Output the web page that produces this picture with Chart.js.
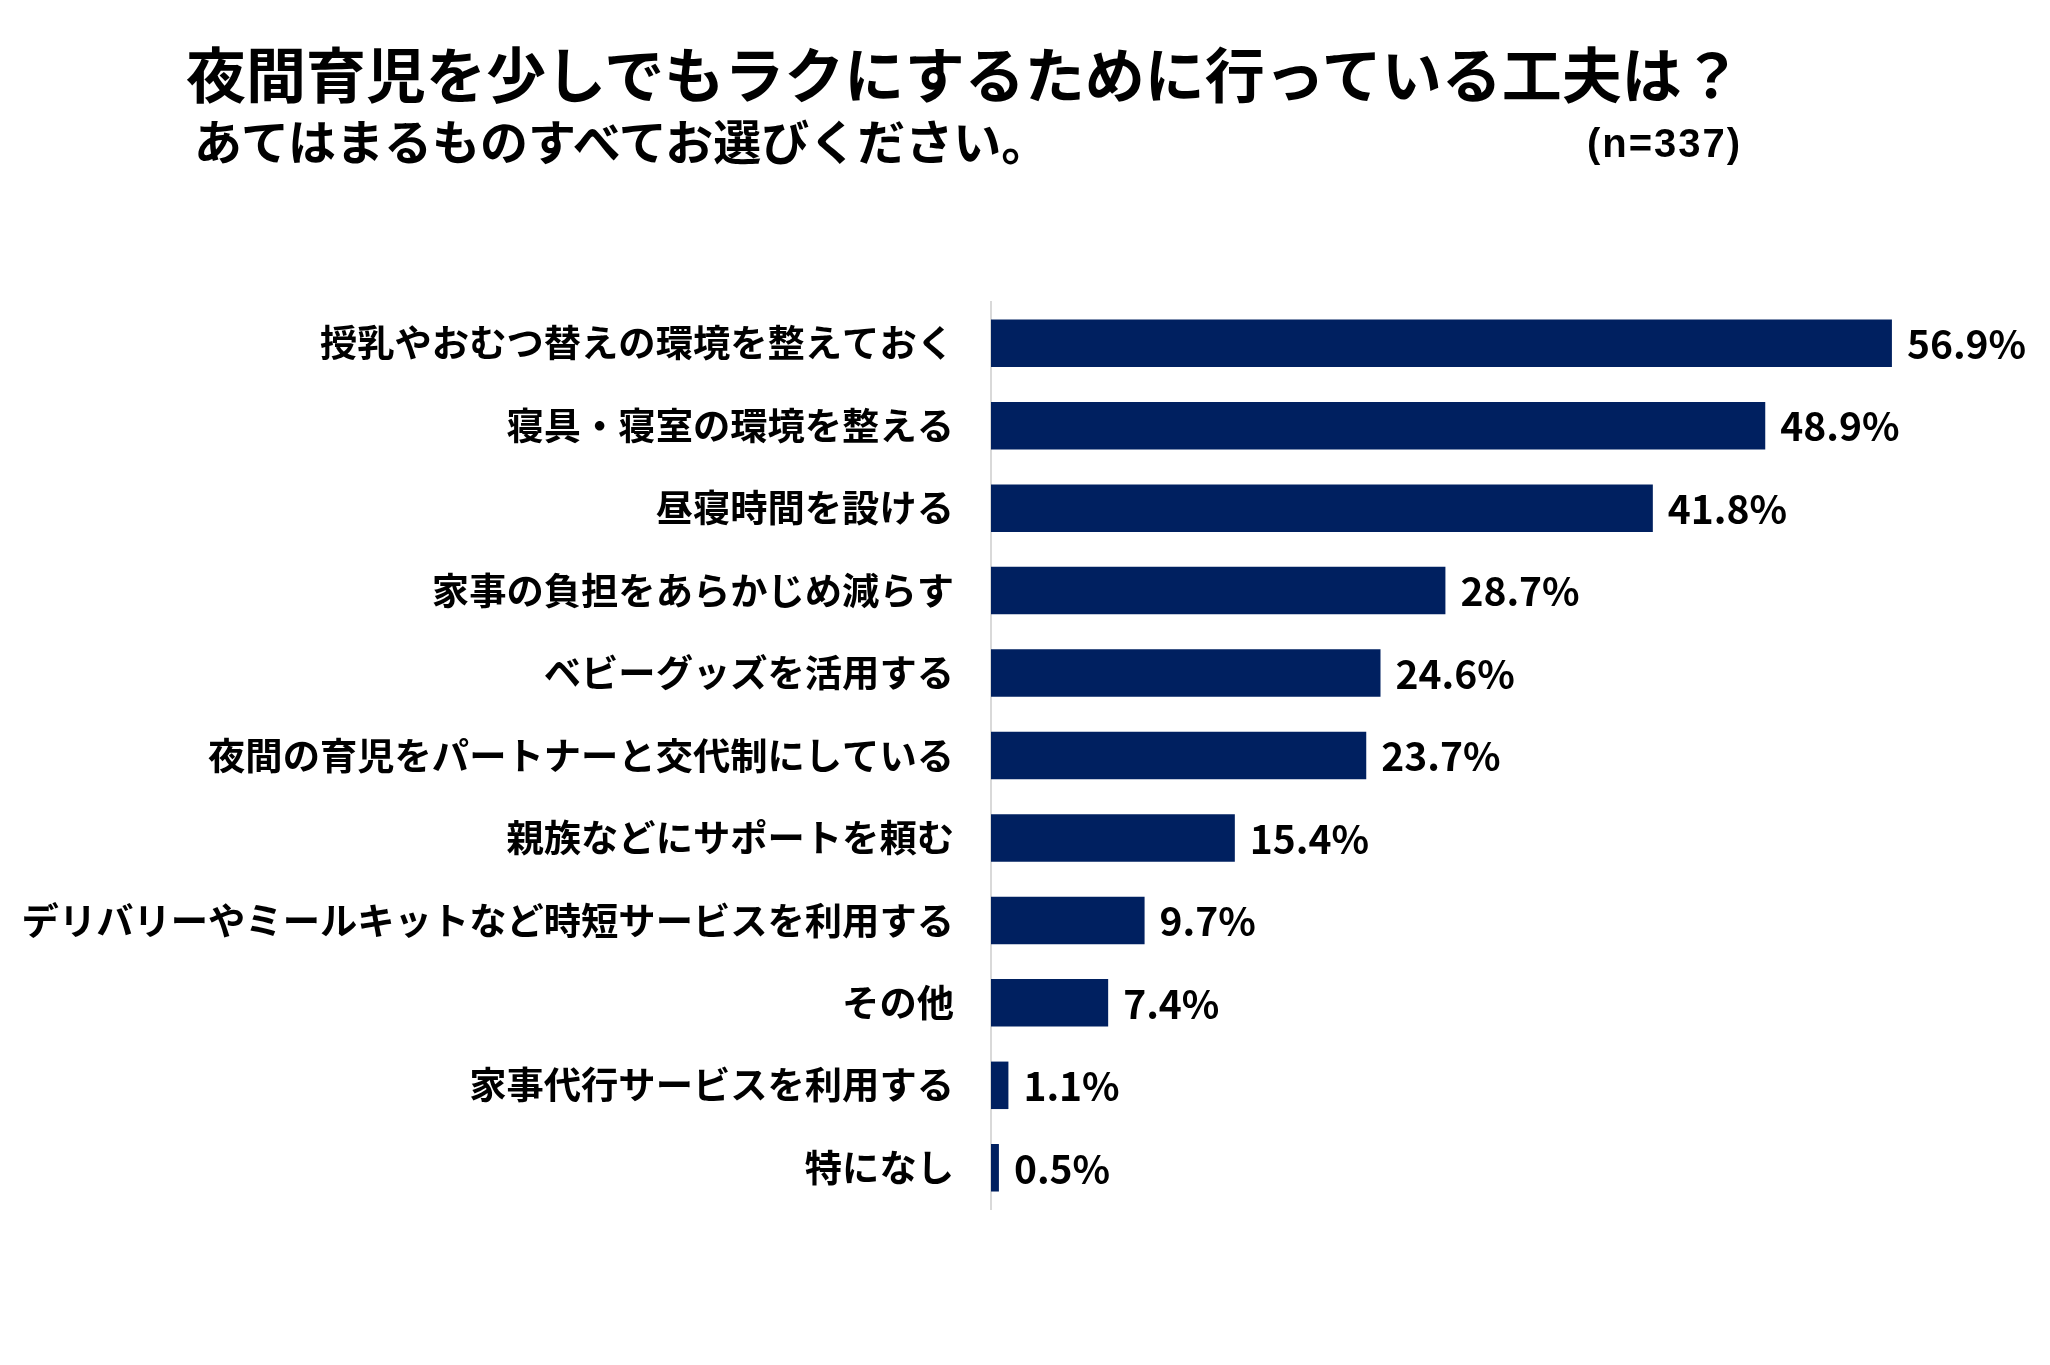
<!DOCTYPE html>
<html lang="ja">
<head>
<meta charset="utf-8">
<script src="https://cdn.jsdelivr.net/npm/chart.js@4.4.1/dist/chart.umd.min.js"></script>
<style>
  html, body { margin: 0; padding: 0; background: #ffffff; }
  #wrap { position: relative; width: 2050px; height: 1365px; background: #ffffff; }
  #chartBox { position: absolute; left: 0; top: 0; width: 2050px; height: 1365px; }
  .txt { position: absolute; font-family: "Noto Sans CJK JP", "Noto Sans", sans-serif; font-weight: 700; color: #000; white-space: nowrap; }
  #title { left: 186px; top: 40px; font-size: 60px; line-height: 64px; }
  #subtitle { left: 194px; top: 113px; font-size: 48px; line-height: 52px; }
  #nlabel { left: 1587px; top: 121px; font-size: 40px; line-height: 44px; font-family: "Liberation Sans", Arial, sans-serif; letter-spacing: 2px; }
</style>
</head>
<body>
<div id="wrap">
  <div id="chartBox"><canvas id="c"></canvas></div>
  <div class="txt" id="title"></div>
  <div class="txt" id="subtitle"></div>
  <div class="txt" id="nlabel"></div>
</div>
<script>
const titleText = "夜間育児を少しでもラクにするために行っている工夫は？";
const subtitleText = "あてはまるものすべてお選びください。";
const sampleText = "(n=337)";

const categories = [
  "授乳やおむつ替えの環境を整えておく",
  "寝具・寝室の環境を整える",
  "昼寝時間を設ける",
  "家事の負担をあらかじめ減らす",
  "ベビーグッズを活用する",
  "夜間の育児をパートナーと交代制にしている",
  "親族などにサポートを頼む",
  "デリバリーやミールキットなど時短サービスを利用する",
  "その他",
  "家事代行サービスを利用する",
  "特になし"
];
const values = [56.9, 48.9, 41.8, 28.7, 24.6, 23.7, 15.4, 9.7, 7.4, 1.1, 0.5];
const valueLabels = ["56.9%", "48.9%", "41.8%", "28.7%", "24.6%", "23.7%", "15.4%", "9.7%", "7.4%", "1.1%", "0.5%"];

document.getElementById('title').textContent = titleText;
document.getElementById('subtitle').textContent = subtitleText;
document.getElementById('nlabel').textContent = sampleText;

const FONT = '"Noto Sans CJK JP", "Noto Sans", sans-serif';

const valueLabelPlugin = {
  id: 'valueLabels',
  afterDatasetsDraw(chart) {
    const ctx = chart.ctx;
    const meta = chart.getDatasetMeta(0);
    ctx.save();
    ctx.font = 'bold 39px ' + FONT;
    ctx.fillStyle = '#000000';
    ctx.textAlign = 'left';
    ctx.textBaseline = 'middle';
    meta.data.forEach((bar, i) => {
      ctx.fillText(valueLabels[i], bar.x + 15, bar.y + 1);
    });
    ctx.restore();
  }
};

new Chart(document.getElementById('c'), {
  type: 'bar',
  data: {
    labels: categories,
    datasets: [{
      data: values,
      backgroundColor: '#002060',
      borderWidth: 0,
      barPercentage: 0.576,
      categoryPercentage: 1.0
    }]
  },
  options: {
    indexAxis: 'y',
    responsive: true,
    maintainAspectRatio: false,
    animation: false,
    devicePixelRatio: 1,
    layout: { padding: { top: 302, bottom: 156, right: 109, left: 0 } },
    plugins: {
      legend: { display: false },
      tooltip: { enabled: false },
      title: { display: false }
    },
    scales: {
      x: {
        display: false,
        min: 0,
        max: 60
      },
      y: {
        afterFit(scale) { scale.width = 991; },
        grid: { display: false, drawTicks: false },
        border: { display: true, color: '#d9d9d9', width: 2 },
        ticks: {
          padding: 37,
          color: '#000000',
          font: { family: FONT, size: 37.3, weight: 'bold' },
          autoSkip: false
        }
      }
    }
  },
  plugins: [valueLabelPlugin]
});
</script>
</body>
</html>
